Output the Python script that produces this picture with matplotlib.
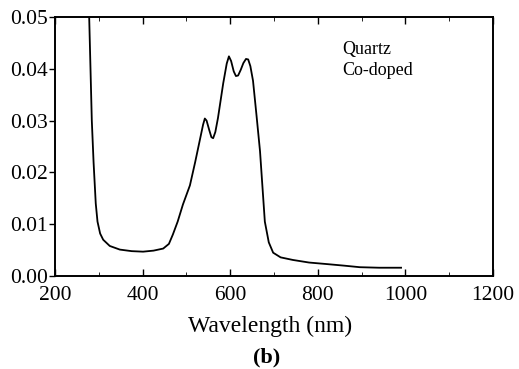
import matplotlib
matplotlib.use("Agg")
import matplotlib.pyplot as plt
from matplotlib.ticker import MultipleLocator, FormatStrFormatter

plt.rcParams.update({"font.family": ["Liberation Serif", "DejaVu Serif"]})

# absorbance spectrum
wavelength = [276, 278, 281, 284, 288, 293, 297, 303, 310, 325, 348, 375, 401,
              425, 447, 460, 469, 480, 492, 508, 520, 533, 538, 542, 546, 552,
              557, 561, 566, 572, 584, 592, 597, 602, 608, 613, 618, 624, 630,
              636, 641, 646, 652, 660, 668, 679, 688, 698, 715, 743, 780, 821,
              860, 896, 940, 990]
absorb = [0.056, 0.050, 0.040, 0.030, 0.022, 0.014, 0.0105, 0.0082, 0.0070,
          0.0058, 0.0051, 0.0048, 0.0047, 0.0049, 0.0053, 0.0062, 0.0080,
          0.0105, 0.0138, 0.0175, 0.0220, 0.0272, 0.0292, 0.0304, 0.0300,
          0.0282, 0.0268, 0.0266, 0.0278, 0.0305, 0.0372, 0.0410, 0.0424,
          0.0415, 0.0395, 0.0386, 0.0387, 0.0398, 0.0411, 0.0419, 0.0418,
          0.0405, 0.0377, 0.0310, 0.0241, 0.0105, 0.0065, 0.0045, 0.0036,
          0.0031, 0.0026, 0.0023, 0.0020, 0.0017, 0.0016, 0.0016]

fig = plt.figure(figsize=(5.19, 3.69), dpi=100)
ax = fig.add_axes([0.106, 0.252, 0.844, 0.702])
ax.plot(wavelength, absorb, color="black", lw=1.3)
ax.set_xlim(200, 1200)
ax.set_ylim(0, 0.05)
ax.xaxis.set_major_locator(MultipleLocator(200))
ax.xaxis.set_minor_locator(MultipleLocator(100))
ax.yaxis.set_major_locator(MultipleLocator(0.01))
ax.yaxis.set_major_formatter(FormatStrFormatter("%.2f"))
ax.tick_params(axis="x", direction="in", top=True, length=5, width=1,
               labelsize=15.5, pad=7)
ax.tick_params(axis="x", which="minor", direction="in", top=True, length=3)
ax.tick_params(axis="y", direction="out", length=4, width=1, labelsize=15.5, pad=1)
for s in ax.spines.values():
    s.set_linewidth(1.4)
ax.set_xlabel("Wavelength (nm)", fontsize=17, va="center")
ax.xaxis.set_label_coords(0.491, -0.193)
ax.text(0.655, 0.876, "Quartz", transform=ax.transAxes, fontsize=13, va="center")
ax.text(0.655, 0.792, "Co-doped", transform=ax.transAxes, fontsize=13, va="center")
fig.text(0.514, 0.0325, "(b)", ha="center", va="center", fontsize=16,
         fontweight="bold")
fig.savefig("out.png", dpi=100)
